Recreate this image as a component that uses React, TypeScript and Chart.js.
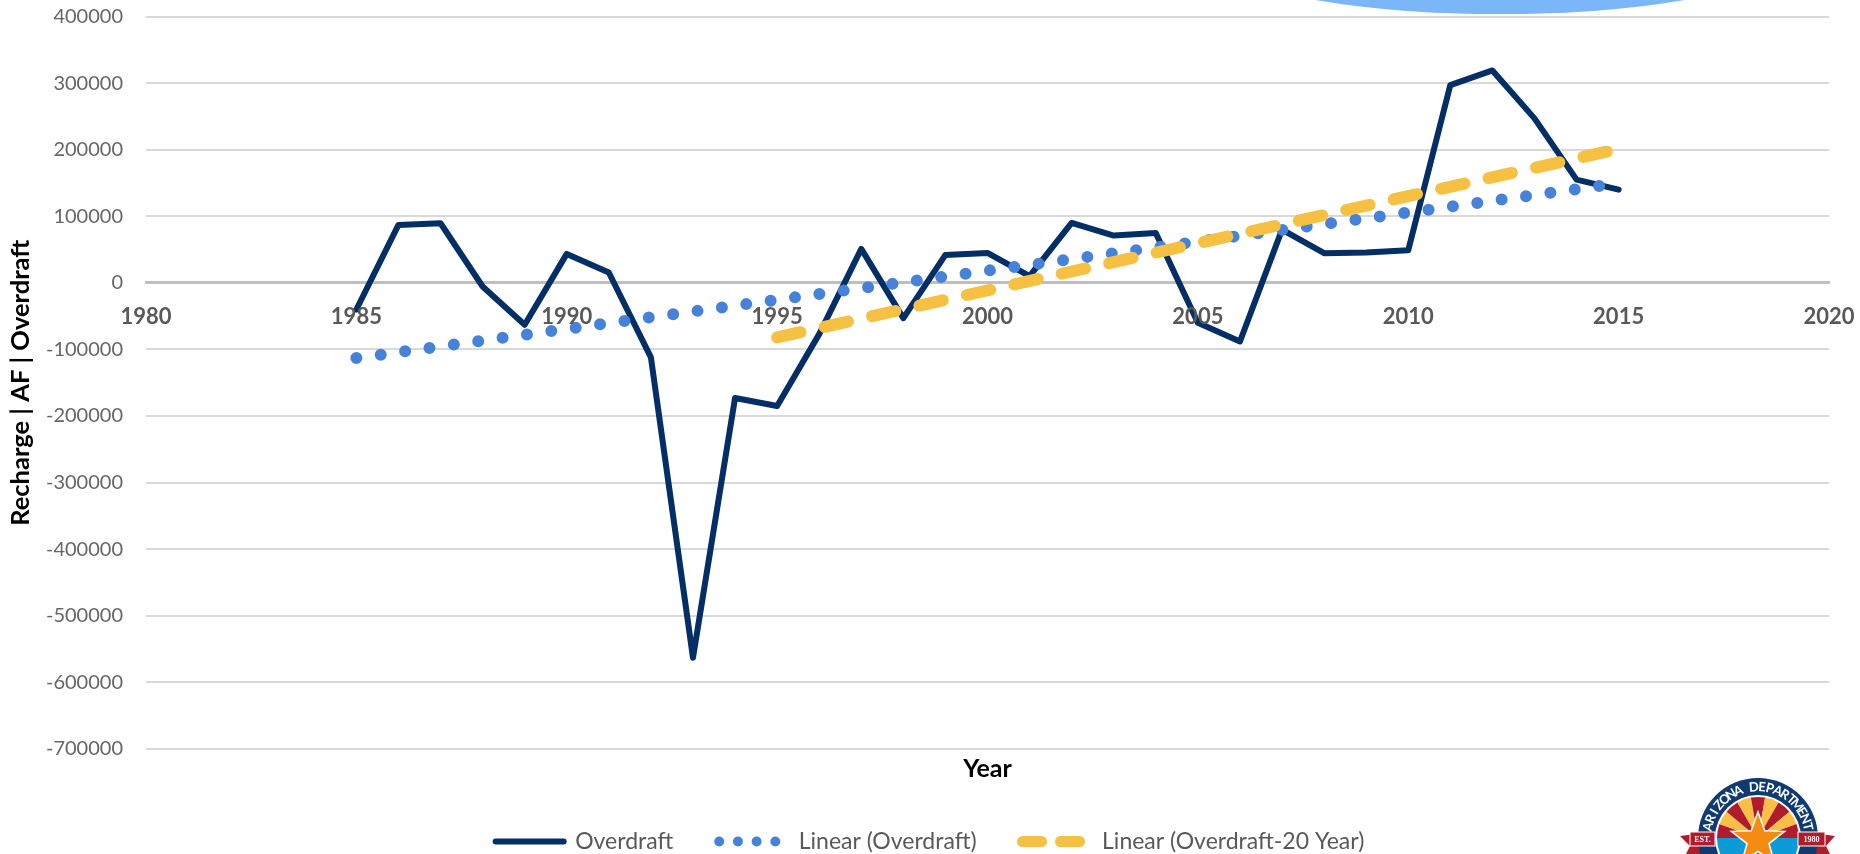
import React, { useEffect, useRef } from "react";
import { Chart, registerables } from "chart.js";

Chart.register(...registerables);

const overdraftYears = [1985,1986,1987,1988,1989,1990,1991,1992,1993,1994,1995,1996,1997,1998,1999,2000,2001,2002,2003,2004,2005,2006,2007,2008,2009,2010,2011,2012,2013,2014,2015];
const overdraftValues = [-40000,87000,89500,-5500,-63000,43500,15500,-112000,-563000,-173000,-185000,-77000,51000,-53000,42000,45000,10000,90000,71000,75000,-60000,-88000,80000,44500,45500,49000,297000,319000,247000,155000,140000];
const linearYears = [1985, 2015];
const linearValues = [-113000, 149500];
const linear20Years = [1995, 2015];
const linear20Values = [-82000, 201000];
const seriesNames = ["Overdraft", "Linear (Overdraft)", "Linear (Overdraft-20 Year)"];
const FONT = "Lato";

const zip = (xs: number[], ys: number[]) => xs.map((x, i) => ({ x, y: ys[i] }));

const decorations = {
  id: "decorations",
  afterDraw(chart: any) {
    const c = chart.ctx;
    c.save();
    // blue shape cut by the top edge
    c.fillStyle = "#7bb6f9";
    c.beginPath();
    c.ellipse(1500, -30, 252, 44, 0, 0, Math.PI * 2);
    c.fill();

    // logo
    const cx = 1758, cy = 838;
    // ribbons
    c.fillStyle = "#b01c2e";
    c.beginPath();
    c.moveTo(1680, 836); c.lineTo(1712, 832); c.lineTo(1712, 854); c.lineTo(1686, 854); c.lineTo(1690, 846); c.closePath();
    c.moveTo(1835, 836); c.lineTo(1804, 832); c.lineTo(1804, 854); c.lineTo(1830, 854); c.lineTo(1826, 846); c.closePath();
    c.fill();
    c.fillStyle = "#0f3b70";
    c.beginPath(); c.arc(cx, cy, 60, 0, Math.PI * 2); c.fill();
    c.fillStyle = "#ffffff";
    c.beginPath(); c.arc(cx, cy, 43, 0, Math.PI * 2); c.fill();
    // rays
    const rays = 9;
    for (let i = 0; i < rays; i++) {
      const a0 = Math.PI + (i * Math.PI) / rays;
      c.fillStyle = i % 2 === 0 ? "#b01c2e" : "#fbbf45";
      c.beginPath(); c.moveTo(cx, cy); c.arc(cx, cy, 41, a0, a0 + Math.PI / rays); c.closePath(); c.fill();
    }
    c.fillStyle = "#0d9bd8";
    c.beginPath(); c.arc(cx, cy, 41, 0, Math.PI); c.closePath(); c.fill();
    // star
    c.fillStyle = "#f28c13"; c.strokeStyle = "#ffffff"; c.lineWidth = 1.5;
    c.beginPath();
    for (let i = 0; i < 10; i++) {
      const r = i % 2 === 0 ? 28 : 11.5;
      const a = -Math.PI / 2 + (i * Math.PI) / 5;
      const px = cx + r * Math.cos(a), py = cy + 2 + r * Math.sin(a);
      if (i === 0) c.moveTo(px, py); else c.lineTo(px, py);
    }
    c.closePath(); c.fill(); c.stroke();
    // ribbon plates
    c.fillStyle = "#b01c2e"; c.strokeStyle = "#ffffff"; c.lineWidth = 1;
    c.fillRect(1690, 832, 25, 14); c.strokeRect(1690, 832, 25, 14);
    c.fillRect(1798, 832, 27, 14); c.strokeRect(1798, 832, 27, 14);
    c.fillStyle = "#ffffff"; c.font = "bold 8px 'Liberation Serif'";
    c.textAlign = "center"; c.textBaseline = "middle";
    c.fillText("EST.", 1702.5, 839.5);
    c.fillText("1980", 1811.5, 839.5);
    // arc text
    const text = "ARIZONA DEPARTMENT";
    c.font = `bold 13px ${FONT}`;
    const span = 2.85;
    [...text].forEach((ch, i) => {
      const a = -Math.PI / 2 - span / 2 + (span * (i + 0.5)) / text.length;
      c.save();
      c.translate(cx + 51 * Math.cos(a), cy + 51 * Math.sin(a));
      c.rotate(a + Math.PI / 2);
      c.fillText(ch, 0, 0);
      c.restore();
    });
    c.restore();
  },
};

export default function App() {
  const ref = useRef<HTMLCanvasElement>(null);
  useEffect(() => {
    const chart = new Chart(ref.current!, {
      type: "line",
      data: {
        datasets: [
          { label: seriesNames[0], data: zip(overdraftYears, overdraftValues), borderColor: "#042f66", borderWidth: 6, borderCapStyle: "round", borderJoinStyle: "round", pointRadius: 0, order: 3 },
          { label: seriesNames[1], data: zip(linearYears, linearValues), borderColor: "#4682d9", borderWidth: 12, borderCapStyle: "round", borderDash: [0, 24.6], pointRadius: 0, order: 2 },
          { label: seriesNames[2], data: zip(linear20Years, linear20Values), borderColor: "#f6c142", borderWidth: 12, borderCapStyle: "round", borderDash: [24, 24.6], pointRadius: 0, order: 1 },
        ],
      } as any,
      plugins: [decorations],
      options: {
        animation: false,
        responsive: false,
        layout: { padding: { left: 0, right: 0, top: 16.5, bottom: -9 } },
        scales: {
          x: {
            type: "linear",
            position: { y: 0 } as any,
            min: 1980,
            max: 2020,
            grid: { display: false, drawTicks: false },
            border: { color: "#bfbfbf", width: 3 },
            afterFit: (s: any) => { s.paddingLeft = 0; s.paddingRight = 0; },
            ticks: { stepSize: 5, autoSkip: false, maxRotation: 0, z: 1, padding: 21, color: "#595959", font: { family: FONT, size: 22, weight: "bold" }, callback: (v: any) => String(v) },
          },
          y: {
            min: -700000,
            max: 400000,
            afterFit: (s: any) => { s.width = 146; s.paddingTop = 0; s.paddingBottom = 0; s.paddingRight = 31; },
            grid: { color: "#d9d9d9", lineWidth: 2, drawTicks: false },
            border: { display: false },
            ticks: { stepSize: 100000, autoSkip: false, padding: 23, color: "#666666", font: { family: FONT, size: 20 }, callback: (v: any) => String(v) },
            title: { display: true, text: "Recharge | AF | Overdraft", color: "#000000", padding: { top: 5.7, bottom: 0 }, font: { family: FONT, size: 25.5, weight: "bold" } },
          },
        },
        plugins: {
          tooltip: { enabled: false },
          title: { display: true, text: "Year", position: "bottom", weight: 500, fullSize: false, color: "#000000", padding: { top: 5, bottom: 0 }, font: { family: FONT, size: 25, weight: "bold" } },
          legend: {
            position: "bottom",
            weight: 1000,
            labels: {
              usePointStyle: true,
              pointStyle: "line",
              pointStyleWidth: 68,
              boxHeight: 10,
              padding: 46,
              color: "#595959",
              font: { family: FONT, size: 23 },
              generateLabels: () => [
                { text: seriesNames[0], strokeStyle: "#042f66", fillStyle: "#042f66", lineWidth: 6, lineCap: "round", lineDash: [], pointStyle: "line", fontColor: "#595959", datasetIndex: 0 },
                { text: seriesNames[1], strokeStyle: "#4682d9", fillStyle: "#4682d9", lineWidth: 10, lineCap: "round", lineDash: [0, 18.7], pointStyle: "line", fontColor: "#595959", datasetIndex: 1 },
                { text: seriesNames[2], strokeStyle: "#f6c142", fillStyle: "#f6c142", lineWidth: 11, lineCap: "round", lineDash: [19, 19], pointStyle: "line", fontColor: "#595959", datasetIndex: 2 },
              ],
            },
          },
        },
      } as any,
    });
    return () => chart.destroy();
  }, []);
  return (
    <div style={{ position: "fixed", left: 0, top: 0, width: 1860, height: 854, background: "#fff" }}>
      <canvas ref={ref} width={1860} height={854} style={{ display: "block" }} />
    </div>
  );
}
